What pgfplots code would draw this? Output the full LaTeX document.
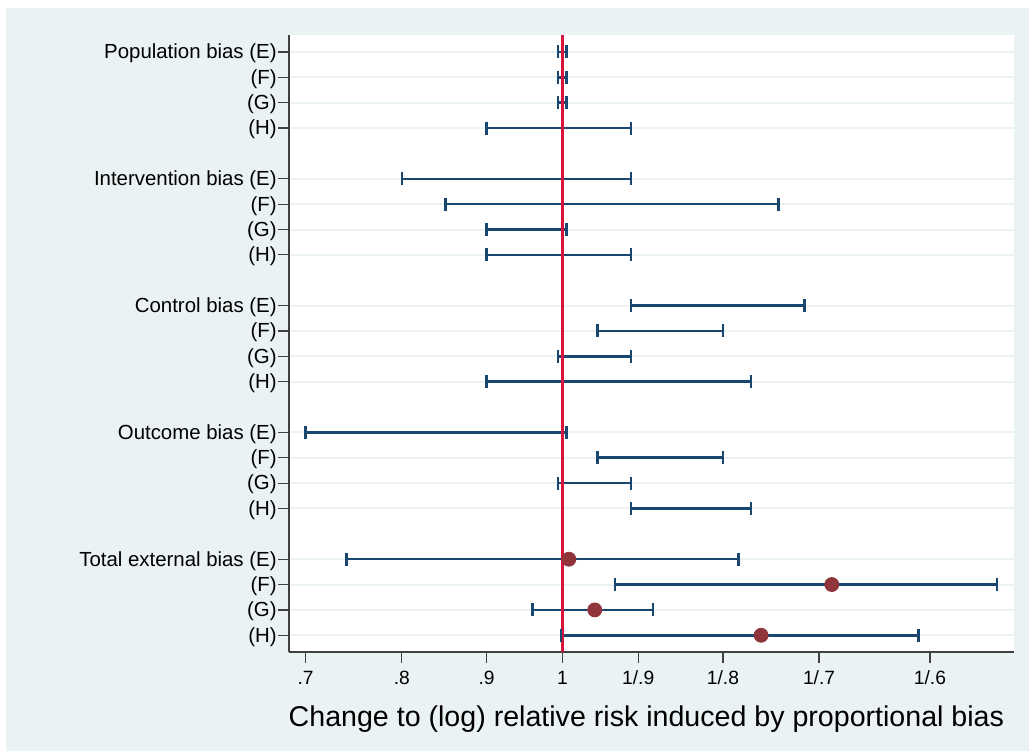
\documentclass[border=0pt]{standalone}
\usepackage{pgfplots}
\pgfplotsset{compat=1.18}
\usepackage{fontspec}
\setmainfont{Liberation Sans}
\definecolor{bgc}{HTML}{EAF2F3}
\definecolor{navy}{HTML}{1A476F}
\definecolor{dotc}{HTML}{90353B}
\definecolor{redline}{HTML}{D7153A}
\begin{document}
\begin{tikzpicture}
\path[use as bounding box] (0,0) rectangle (514.5pt,375.5pt);
\fill[bgc] (3pt,0) rectangle (514.5pt,371.5pt);
\begin{axis}[
  at={(144.5pt,49.5pt)}, anchor=south west,
  scale only axis, width=362.5pt, height=308.5pt,
  xmode=log, xmin=0.684, xmax=1.873,
  ymin=0.34, ymax=24.67,
  axis x line*=bottom, axis y line*=left,
  axis line style={draw=black!75, line width=0.6pt, -},
  axis background/.style={fill=white},
  xtick={0.7,0.8,0.9,1,1.111111,1.25,1.428571,1.666667},
  xticklabels={.7,.8,.9,1,1/.9,1/.8,1/.7,1/.6},
  minor xtick={},
  ytick={1,2,3,4,6,7,8,9,11,12,13,14,16,17,18,19,21,22,23,24},
  yticklabels={(H),(G),(F),Total external bias (E),(H),(G),(F),Outcome bias (E),(H),(G),(F),Control bias (E),(H),(G),(F),Intervention bias (E),(H),(G),(F),Population bias (E)},
  tick align=outside, major tick length=5.5pt,
  tick style={draw=black!75, line width=0.6pt},
  ymajorgrids, grid style={bgc, line width=1pt},
  /pgf/number format/assume math mode=true,
  xticklabel style={font=\fontsize{9.6}{11}\selectfont, yshift=-0.5pt},
  yticklabel style={font=\fontsize{10.2}{12}\selectfont, inner xsep=0.5pt, yshift=-0.8pt},
  xlabel={Change to (log) relative risk induced by proportional bias},
  xlabel style={font=\fontsize{14.3}{17}\selectfont, at={(axis description cs:0.493,-0.108)}, anchor=center},
  clip=false,
]
% confidence intervals (lower, upper) per row; nan separates rows
\addplot[navy, line width=1.25pt, mark=|, mark size=3.25pt, unbounded coords=jump] coordinates {
  (0.994,24) (1.006,24) (nan,nan)
  (0.994,23) (1.006,23) (nan,nan)
  (0.994,22) (1.006,22) (nan,nan)
  (0.900,21) (1.100,21) (nan,nan)
  (0.800,19) (1.100,19) (nan,nan)
  (0.850,18) (1.350,18) (nan,nan)
  (0.900,17) (1.006,17) (nan,nan)
  (0.900,16) (1.100,16) (nan,nan)
  (1.100,14) (1.400,14) (nan,nan)
  (1.050,13) (1.250,13) (nan,nan)
  (0.994,12) (1.100,12) (nan,nan)
  (0.900,11) (1.300,11) (nan,nan)
  (0.700,9) (1.006,9) (nan,nan)
  (1.050,8) (1.250,8) (nan,nan)
  (0.994,7) (1.100,7) (nan,nan)
  (1.100,6) (1.300,6) (nan,nan)
  (0.741,4) (1.277,4) (nan,nan)
  (1.076,3) (1.830,3) (nan,nan)
  (0.959,2) (1.134,2) (nan,nan)
  (0.998,1) (1.640,1)
};
% reference line at 1
\addplot[redline, line width=1.5pt] coordinates {(1,0.34) (1,24.67)};
% point estimates
\addplot[only marks, mark=*, mark size=3.5pt, dotc, mark options={draw=dotc, fill=dotc}] coordinates {
  (1.009,4) (1.454,3) (1.046,2) (1.318,1)
};
\end{axis}
\end{tikzpicture}
\end{document}
